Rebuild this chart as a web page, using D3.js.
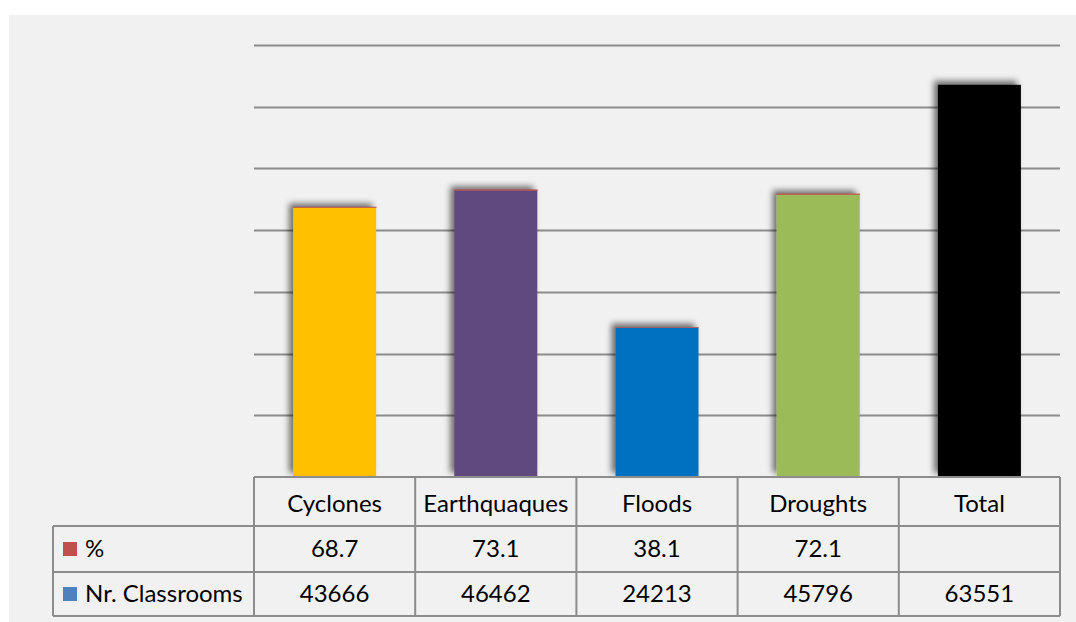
<!DOCTYPE html>
<html>
<head>
<meta charset="utf-8">
<script src="https://cdn.jsdelivr.net/npm/d3@7"></script>
<style>
  html, body { margin: 0; padding: 0; background: #ffffff; }
  svg { display: block; font-family: Lato, "Open Sans", sans-serif; }
</style>
</head>
<body>
<svg id="chart" width="1076" height="622"></svg>
<script>
// Hazard categories and the two data-table series
const categories = ["Cyclones", "Earthquaques", "Floods", "Droughts", "Total"];
const classrooms = [43666, 46462, 24213, 45796, 63551];
const percent = [68.7, 73.1, 38.1, 72.1, null];
const barColors = ["#ffc000", "#604a7b", "#0070c0", "#9bbb59", "#000000"];
const seriesNames = ["%", "Nr. Classrooms"];
const seriesColors = ["#c0504d", "#4f81bd"];
const yTicks = [0, 10000, 20000, 30000, 40000, 50000, 60000, 70000];

const svg = d3.select("#chart");
const W = 1076, H = 622;

// grey chart panel
svg.append("rect").attr("x", 9).attr("y", 15).attr("width", W - 9).attr("height", H - 15)
  .attr("fill", "#f1f1f1");

const plot = { left: 254, right: 1060, top: 45, bottom: 477 };
const x = d3.scaleBand().domain(categories).range([plot.left, plot.right]).paddingInner(0).paddingOuter(0);
const y = d3.scaleLinear().domain([0, 70000]).range([plot.bottom, plot.top]);

// bar shadow
const defs = svg.append("defs");
const f = defs.append("filter").attr("id", "shadow").attr("x", "-30%").attr("y", "-30%")
  .attr("width", "160%").attr("height", "160%");
f.append("feGaussianBlur").attr("in", "SourceAlpha").attr("stdDeviation", 3).attr("result", "b");
f.append("feOffset").attr("in", "b").attr("dx", -4).attr("dy", -4).attr("result", "o");
f.append("feComponentTransfer").attr("in", "o").attr("result", "s")
  .append("feFuncA").attr("type", "linear").attr("slope", 0.55);
const m = f.append("feMerge");
m.append("feMergeNode").attr("in", "s");
m.append("feMergeNode").attr("in", "SourceGraphic");

// horizontal gridlines
svg.append("g").selectAll("line").data(yTicks.slice(1)).join("line")
  .attr("x1", plot.left).attr("x2", plot.right)
  .attr("y1", d => Math.round(y(d)) + 0.5).attr("y2", d => Math.round(y(d)) + 0.5)
  .attr("stroke", "#8c8c8c").attr("stroke-width", 2);

// stacked bars: classrooms with the % segment on top
const barW = x.bandwidth() * 0.515;
const bars = svg.append("g");
categories.forEach((c, i) => {
  const bx = x(c) + (x.bandwidth() - barW) / 2;
  bars.append("rect")
    .attr("x", bx).attr("width", barW)
    .attr("y", y(classrooms[i])).attr("height", y(0) - y(classrooms[i]))
    .attr("fill", barColors[i]).attr("filter", "url(#shadow)");
  if (percent[i] != null) {
    bars.append("rect")
      .attr("x", bx).attr("width", barW)
      .attr("y", y(classrooms[i] + percent[i]))
      .attr("height", y(classrooms[i]) - y(classrooms[i] + percent[i]))
      .attr("fill", seriesColors[0]).attr("stroke", seriesColors[0]).attr("stroke-width", 0.8)
      .attr("stroke-opacity", 0.8);
  }
});

// data table beneath the plot
const rows = [plot.bottom, 526, 572, 616];
const tableLeft = 53;
const tg = svg.append("g").attr("stroke", "#8c8c8c").attr("stroke-width", 2).attr("fill", "none");
// header row (category names)
tg.append("line").attr("x1", plot.left).attr("x2", plot.right).attr("y1", rows[0]).attr("y2", rows[0]);
[1, 2, 3].forEach(r => {
  tg.append("line").attr("x1", tableLeft).attr("x2", plot.right).attr("y1", rows[r]).attr("y2", rows[r]);
});
// vertical separators
categories.forEach(c => {
  tg.append("line").attr("x1", x(c)).attr("x2", x(c)).attr("y1", rows[0]).attr("y2", rows[3]);
});
tg.append("line").attr("x1", plot.right).attr("x2", plot.right).attr("y1", rows[0]).attr("y2", rows[3]);
tg.append("line").attr("x1", tableLeft).attr("x2", tableLeft).attr("y1", rows[1]).attr("y2", rows[3]);

const txt = svg.append("g").attr("fill", "#000").attr("font-size", 24);
const cx = c => x(c) + x.bandwidth() / 2;
categories.forEach((c, i) => {
  txt.append("text").attr("x", cx(c)).attr("y", (rows[0] + rows[1]) / 2 + 10)
    .attr("text-anchor", "middle").text(c);
  if (percent[i] != null) {
    txt.append("text").attr("x", cx(c)).attr("y", (rows[1] + rows[2]) / 2 + 8)
      .attr("text-anchor", "middle").text(d3.format(".1f")(percent[i]));
  }
  txt.append("text").attr("x", cx(c)).attr("y", (rows[2] + rows[3]) / 2 + 8)
    .attr("text-anchor", "middle").text(classrooms[i]);
});

// legend keys in the row headers
seriesNames.forEach((s, k) => {
  const ym = (rows[k + 1] + rows[k + 2]) / 2;
  svg.append("rect").attr("x", 63).attr("y", ym - 7).attr("width", 14).attr("height", 14)
    .attr("fill", seriesColors[k]);
  txt.append("text").attr("x", 85).attr("y", ym + 8).text(s);
});
</script>
</body>
</html>
